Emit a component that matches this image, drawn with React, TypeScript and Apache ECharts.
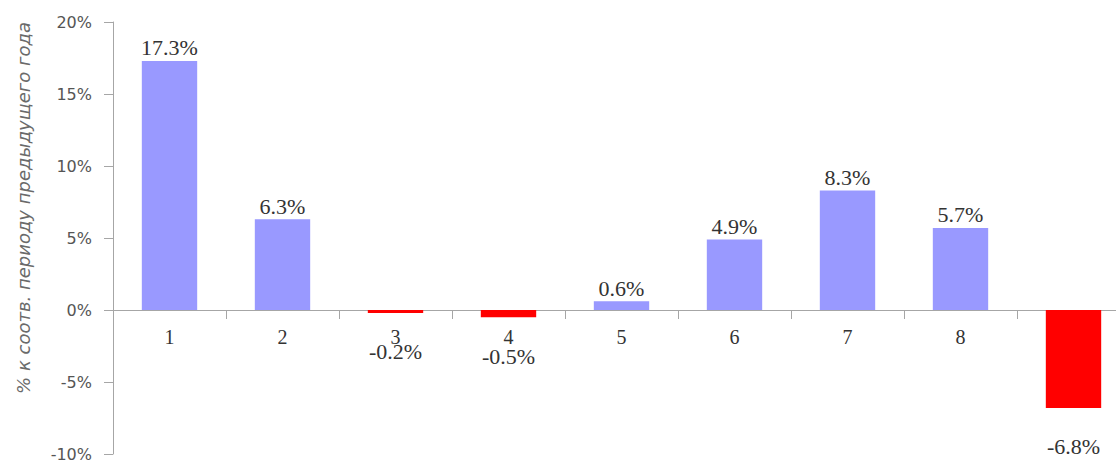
import React, { useEffect, useRef } from "react";
import * as echarts from "echarts";

// Period indices along the x axis (the last one is unlabelled)
const categories: string[] = ["1", "2", "3", "4", "5", "6", "7", "8", ""];
// Change, % to the corresponding period of the previous year
const values: number[] = [17.3, 6.3, -0.2, -0.5, 0.6, 4.9, 8.3, 5.7, -6.8];
// Value axis range and step, %
const yMin = -10;
const yMax = 20;
const yStep = 5;
const yTitle = "% к соотв. периоду предыдущего года";

const POS_COLOR = "#9999FF";
const NEG_COLOR = "#FF0000";

const GRID_TOP = 22;
const GRID_HEIGHT = 432;

export default function App() {
  const ref = useRef<HTMLDivElement>(null);

  useEffect(() => {
    if (!ref.current) return;
    const chart = echarts.init(ref.current, undefined, { renderer: "svg" });

    const data = values.map((v) => ({
      value: v,
      itemStyle: { color: v >= 0 ? POS_COLOR : NEG_COLOR },
      label: {
        position: v >= 0 ? "top" : "bottom",
        distance: v >= 0 ? 2 : 28,
      },
    }));

    // Category labels sit just under the zero line rather than at the grid bottom
    const zeroY = GRID_TOP + (GRID_HEIGHT * yMax) / (yMax - yMin);
    const labelMargin = zeroY + 17 - (GRID_TOP + GRID_HEIGHT);

    chart.setOption({
      animation: false,
      backgroundColor: "#ffffff",
      grid: {
        left: 113,
        top: GRID_TOP,
        width: 1017,
        height: GRID_HEIGHT,
        containLabel: false,
        outerBoundsMode: "none",
      },
      xAxis: {
        type: "category",
        data: categories,
        axisLine: { onZero: true, lineStyle: { color: "#a6a6a6", width: 1 } },
        axisTick: { show: true, alignWithLabel: false, length: 9, lineStyle: { color: "#a6a6a6" } },
        axisLabel: {
          margin: labelMargin,
          fontFamily: "Liberation Serif",
          fontSize: 20,
          color: "#333333",
        },
        splitLine: { show: false },
      },
      yAxis: {
        type: "value",
        min: yMin,
        max: yMax,
        interval: yStep,
        axisLine: { show: true, lineStyle: { color: "#a6a6a6", width: 1 } },
        axisTick: { show: true, length: 9, lineStyle: { color: "#a6a6a6" } },
        axisLabel: {
          margin: 21,
          fontFamily: "DejaVu Sans",
          fontSize: 16,
          color: "#555555",
          formatter: (v: number) => `${v}%`,
        },
        splitLine: { show: false },
      },
      graphic: [
        {
          type: "text",
          x: 23,
          y: 208,
          rotation: Math.PI / 2,
          style: {
            text: yTitle,
            font: "italic 18px 'DejaVu Sans'",
            fill: "#6a6a6a",
            align: "center",
            verticalAlign: "middle",
          },
        },
      ],
      series: [
        {
          type: "bar",
          data,
          barWidth: "49%",
          label: {
            show: true,
            fontFamily: "Liberation Serif",
            fontSize: 22,
            color: "#333333",
            formatter: (p: any) => `${Number(p.value).toFixed(1)}%`,
          },
        },
      ],
    });

    return () => chart.dispose();
  }, []);

  return (
    <div
      ref={ref}
      style={{ position: "absolute", left: 0, top: 0, width: 1116, height: 464 }}
    />
  );
}
